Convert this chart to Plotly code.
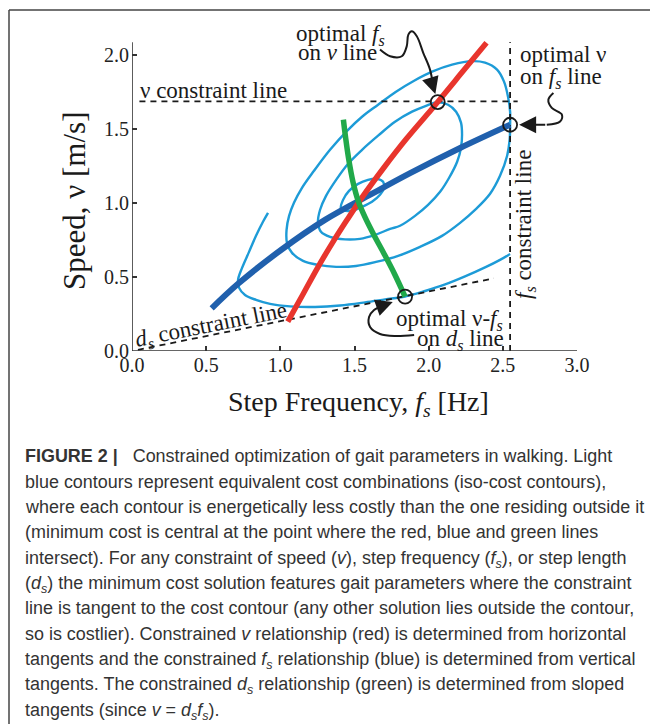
import plotly.graph_objects as go

# ---------------- data (step frequency fs [Hz], speed v [m/s]) ----------------
x_ticks = [0.0, 0.5, 1.0, 1.5, 2.0, 2.5, 3.0]
y_ticks = [0.0, 0.5, 1.0, 1.5, 2.0]

v_constraint = 1.684
v_line_fs = [0.05, 2.60]
fs_constraint = 2.549
fs_line_v = [0.0, 2.083]
ds_constraint = 0.201
ds_line_fs = [0.04, 2.44]

# iso-cost contours
c1_fs = [1.409, 1.423, 1.463, 1.524, 1.591, 1.652, 1.693, 1.699, 1.672, 1.618, 1.551, 1.477, 1.409]
c1_v = [0.959, 1.020, 1.081, 1.128, 1.155, 1.162, 1.142, 1.101, 1.054, 1.007, 0.973, 0.946, 0.959]

c2_fs = [2.057, 2.131, 2.185, 2.218, 2.225, 2.218, 2.192, 2.138, 2.077, 1.996, 1.908, 1.807, 1.740,
         1.639, 1.537, 1.436, 1.335, 1.274, 1.254, 1.268, 1.308, 1.376, 1.457, 1.551, 1.659, 1.773,
         1.888, 1.982, 2.057]
c2_v = [1.679, 1.662, 1.615, 1.541, 1.459, 1.372, 1.277, 1.169, 1.074, 0.986, 0.912, 0.845, 0.824,
        0.784, 0.757, 0.753, 0.770, 0.804, 0.872, 0.953, 1.047, 1.155, 1.264, 1.358, 1.453, 1.547,
        1.615, 1.655, 1.679]

c3_fs = [2.293, 2.380, 2.461, 2.508, 2.535, 2.549, 2.549, 2.546, 2.529, 2.481, 2.414, 2.320, 2.212,
         2.090, 1.942, 1.794, 1.645, 1.510, 1.376, 1.254, 1.153, 1.079, 1.045, 1.042, 1.059, 1.092,
         1.146, 1.227, 1.335, 1.450, 1.551, 1.659, 1.780, 1.902, 2.023, 2.158, 2.293]
c3_v = [1.956, 1.946, 1.899, 1.818, 1.716, 1.615, 1.527, 1.426, 1.318, 1.182, 1.061, 0.959, 0.865,
        0.777, 0.703, 0.642, 0.601, 0.574, 0.568, 0.581, 0.608, 0.662, 0.730, 0.818, 0.912, 1.000,
        1.101, 1.216, 1.358, 1.486, 1.581, 1.662, 1.750, 1.824, 1.885, 1.932, 1.956]

c4_fs = [0.917, 0.883, 0.836, 0.789, 0.742, 0.715, 0.722, 0.762, 0.836, 0.931, 1.065, 1.234, 1.403,
         1.571, 1.706, 1.841, 1.976, 2.111, 2.245, 2.380, 2.481, 2.549]
c4_v = [0.932, 0.872, 0.777, 0.669, 0.561, 0.480, 0.426, 0.378, 0.345, 0.318, 0.301, 0.297, 0.307,
        0.328, 0.348, 0.368, 0.405, 0.449, 0.503, 0.564, 0.615, 0.655]

# constrained-optimum relationships
red_fs = [1.05, 1.15, 1.25, 1.35, 1.45, 1.55, 1.70, 1.85, 2.00, 2.061, 2.20, 2.39]
red_v = [0.198, 0.378, 0.560, 0.728, 0.885, 1.035, 1.240, 1.432, 1.608, 1.680, 1.850, 2.080]

blue_fs = [0.537, 0.717, 1.009, 1.301, 1.616, 1.875, 2.212, 2.549]
blue_v = [0.288, 0.455, 0.685, 0.885, 1.060, 1.200, 1.370, 1.527]

green_fs = [1.425, 1.44, 1.46, 1.49, 1.526, 1.57, 1.63, 1.70, 1.77, 1.841]
green_v = [1.561, 1.44, 1.30, 1.14, 1.01, 0.905, 0.785, 0.655, 0.52, 0.367]

opt_fs = [2.061, 2.549, 1.841]
opt_v = [1.680, 1.527, 0.367]

# curved annotation arrows (path, then tip)
arrow1_fs = [1.672, 1.740, 1.819, 1.852, 1.863, 1.886, 1.920, 1.964, 2.009, 2.032]
arrow1_v = [2.034, 1.989, 1.989, 2.056, 2.135, 2.157, 2.124, 2.011, 1.899, 1.777]
arrow1_tip = (2.045, 1.735)
arrow2_fs = [2.841, 2.807, 2.830, 2.898, 2.886, 2.796]
arrow2_v = [1.741, 1.696, 1.640, 1.595, 1.549, 1.527]
arrow2_tip = (2.610, 1.527)
arrow3_fs = [1.902, 1.773, 1.672, 1.605, 1.598, 1.632, 1.686]
arrow3_v = [0.108, 0.101, 0.115, 0.162, 0.230, 0.277, 0.304]
arrow3_tip = (1.758, 0.330)

caption_lines = [
    "<b>FIGURE 2 |</b>&nbsp;&nbsp;&nbsp;Constrained optimization of gait parameters in walking. Light",
    "blue contours represent equivalent cost combinations (iso-cost contours),",
    "where each contour is energetically less costly than the one residing outside it",
    "(minimum cost is central at the point where the red, blue and green lines",
    "intersect). For any constraint of speed (<i>v</i>), step frequency (<i>f<sub>s</sub></i>), or step length",
    "(<i>d<sub>s</sub></i>) the minimum cost solution features gait parameters where the constraint",
    "line is tangent to the cost contour (any other solution lies outside the contour,",
    "so is costlier). Constrained <i>v</i> relationship (red) is determined from horizontal",
    "tangents and the constrained <i>f<sub>s</sub></i> relationship (blue) is determined from vertical",
    "tangents. The constrained <i>d<sub>s</sub></i> relationship (green) is determined from sloped",
    "tangents (since <i>v</i> = <i>d<sub>s</sub>f<sub>s</sub></i>).",
]

# ---------------- styling ----------------
LIGHT = "#1d9bd7"
DARK = "#2060ad"
RED = "#e8352d"
GREEN = "#21a94a"
INK = "#1a1a1a"
SERIF = "Liberation Serif"

fig = go.Figure()


def line(xs, ys, color, width, dash=None, shape="spline"):
    fig.add_trace(go.Scatter(x=xs, y=ys, mode="lines", hoverinfo="skip",
                             line=dict(color=color, width=width, dash=dash, shape=shape,
                                       smoothing=1.0)))


for cx, cy in [(c1_fs, c1_v), (c2_fs, c2_v), (c3_fs, c3_v), (c4_fs, c4_v)]:
    line(cx, cy, LIGHT, 2.4)

# constraint lines
line(v_line_fs, [v_constraint, v_constraint], INK, 1.8, dash="6px,5px", shape="linear")
line([fs_constraint, fs_constraint], fs_line_v, INK, 1.8, dash="6px,5px", shape="linear")
line(ds_line_fs, [ds_constraint * f for f in ds_line_fs], INK, 1.8, dash="6px,5px", shape="linear")

line(blue_fs, blue_v, DARK, 6)
line(red_fs, red_v, RED, 5.5)
line(green_fs, green_v, GREEN, 5.5)

fig.add_trace(go.Scatter(x=opt_fs, y=opt_v, mode="markers", hoverinfo="skip",
                         marker=dict(symbol="circle-open", size=14, color=INK,
                                     line=dict(width=1.8, color=INK))))

for ax_, ay_ in [(arrow1_fs, arrow1_v), (arrow2_fs, arrow2_v), (arrow3_fs, arrow3_v)]:
    line(ax_, ay_, INK, 2.0)

annotations = []
for path_x, path_y, tip in [(arrow1_fs, arrow1_v, arrow1_tip), (arrow2_fs, arrow2_v, arrow2_tip),
                            (arrow3_fs, arrow3_v, arrow3_tip)]:
    annotations.append(dict(x=tip[0], y=tip[1], ax=path_x[-1], ay=path_y[-1], xref="x", yref="y",
                            axref="x", ayref="y", text="", showarrow=True, arrowhead=2,
                            arrowsize=1.7, arrowwidth=2.0, arrowcolor=INK, standoff=0, startstandoff=0))

X0, Y0, W, H = 132.0, 351.0, 445.0, 326.0


def P(px, py):
    return (px - X0) / W, (Y0 - py) / H


def text(s, px, py, size=23, xanchor="center", yanchor="top", angle=0, family=SERIF, color=INK):
    x, y = P(px, py)
    annotations.append(dict(x=x, y=y, xref="paper", yref="paper", text=s, showarrow=False,
                            xanchor=xanchor, yanchor=yanchor, textangle=angle, borderpad=0,
                            font=dict(family=family, size=size, color=color)))


text("ν constraint line", 139, 77.5, xanchor="left")
text("optimal <i>f<sub>s</sub></i>", 340, 19.5)
text("on <i>v</i> line", 337, 39.5)
text("optimal ν", 519, 41, xanchor="left")
text("on <i>f<sub>s</sub></i> line", 519, 62.8, xanchor="left")
text("<i>f<sub>s</sub></i> constraint line", 525, 225, yanchor="middle", angle=-90)
text("<i>d<sub>s</sub></i> constraint line", 211, 326, yanchor="middle", angle=-11.3)
text("optimal ν-<i>f<sub>s</sub></i>", 504, 304.5, xanchor="right")
text("on <i>d<sub>s</sub></i> line", 505, 325, xanchor="right")
text("Step Frequency, <i>f<sub>s</sub></i> [Hz]", 358, 385, size=28)
text("Speed, ν [m/s]", 74, 201, size=31, yanchor="middle", angle=-90)

for i, s in enumerate(caption_lines):
    text(s, 24, 445.4 + 25.33 * i, size=17.95, xanchor="left", family="Liberation Sans", color="#333333")

shapes = [
    dict(type="line", xref="x", yref="y", x0=0, x1=0, y0=0, y1=fs_line_v[1],
         line=dict(color="#333333", width=1.6)),
    dict(type="line", xref="x", yref="y", x0=0, x1=x_ticks[-1], y0=0, y1=0,
         line=dict(color="#333333", width=1.6)),
]
bx0, by0 = P(9, 10)
bx1, by1 = P(652, 726)
shapes.append(dict(type="line", xref="paper", yref="paper", x0=bx0, x1=bx1, y0=by0, y1=by0,
                   line=dict(color="#444444", width=1.5)))
shapes.append(dict(type="line", xref="paper", yref="paper", x0=bx0, x1=bx0, y0=by0, y1=by1,
                   line=dict(color="#444444", width=1.5)))

axis_common = dict(showgrid=False, zeroline=False, showline=False, ticks="inside", ticklen=5,
                   tickwidth=1.5, tickcolor="#333333", tickformat=".1f", automargin=False,
                   tickfont=dict(family=SERIF, size=20, color="#222222"))

fig.update_layout(
    width=650, height=724,
    margin=dict(l=132, r=73, t=25, b=373),
    paper_bgcolor="white", plot_bgcolor="white",
    showlegend=False,
    xaxis=dict(range=[0, 3.0], tickvals=x_ticks, **axis_common),
    yaxis=dict(range=[0, 2.2], tickvals=y_ticks, ticklabelstandoff=2, **axis_common),
    annotations=annotations,
    shapes=shapes,
)

fig.write_html("out.html",
               config={"displayModeBar": False},
               post_script="document.body.style.margin='0';document.body.style.overflow='hidden';")
